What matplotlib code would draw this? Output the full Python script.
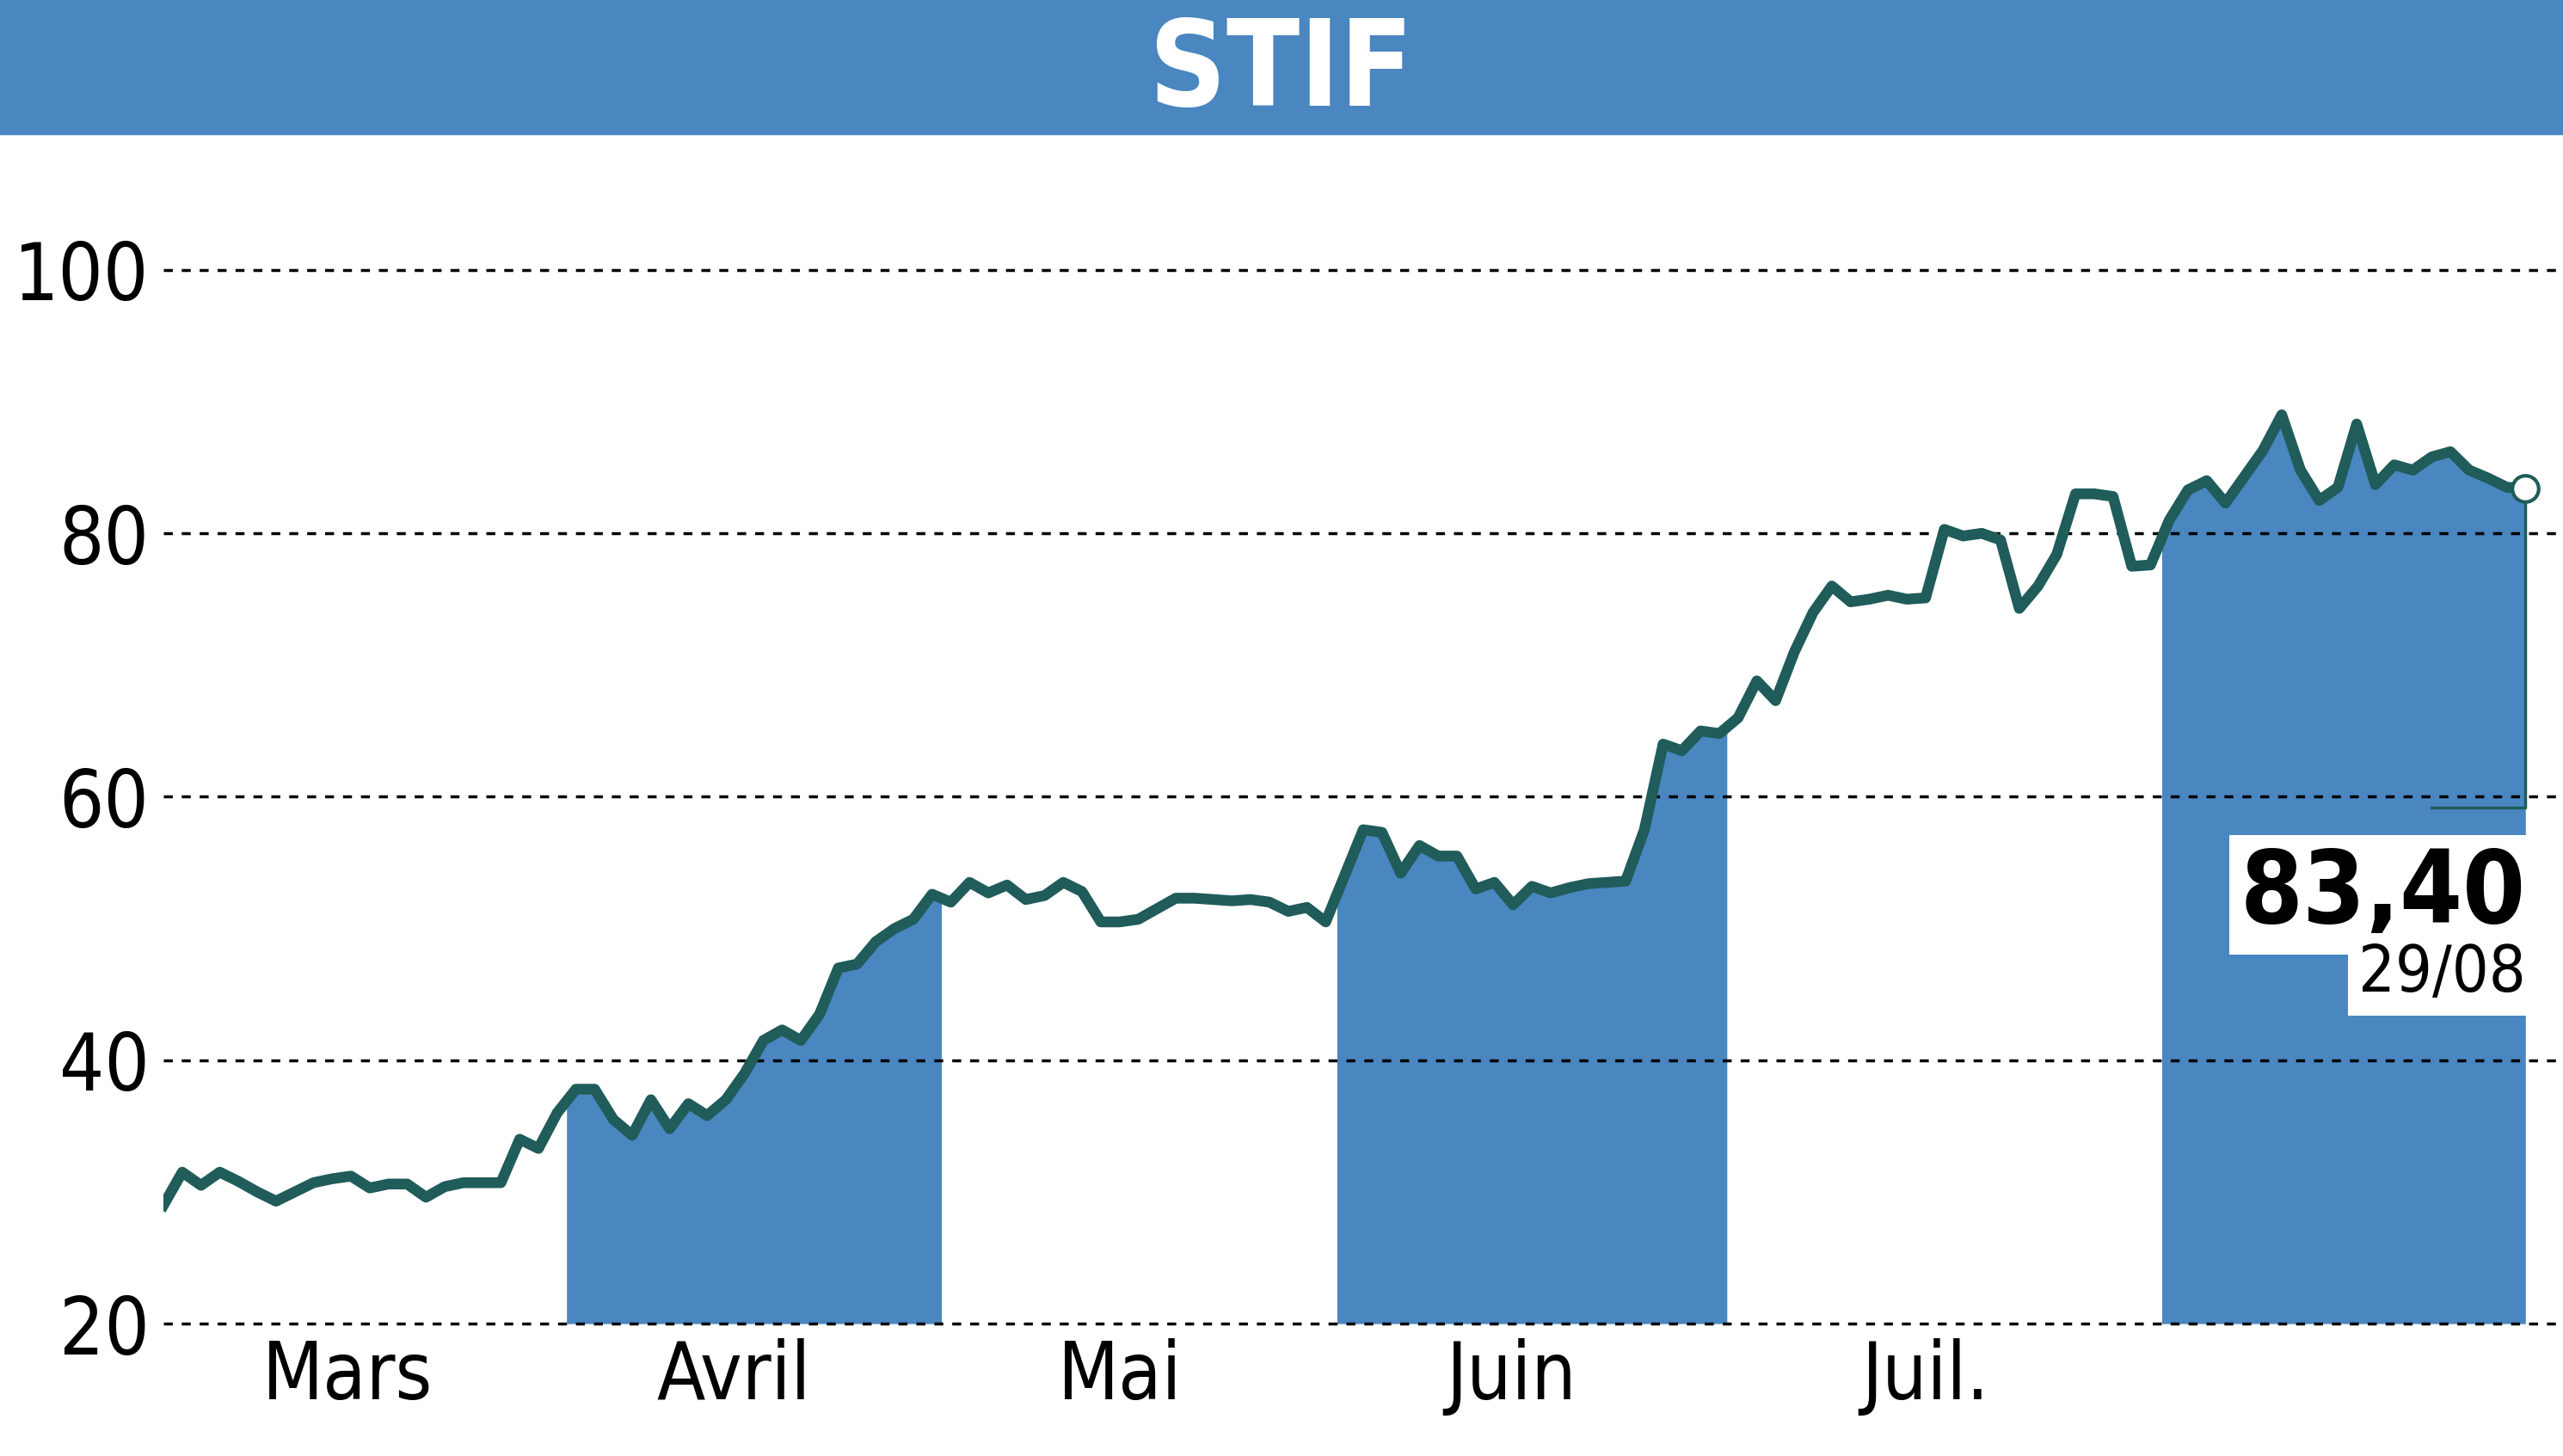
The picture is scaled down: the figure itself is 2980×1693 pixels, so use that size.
import matplotlib.pyplot as plt
from matplotlib.patches import Rectangle

title = "STIF"
months = ["Mars", "Avril", "Mai", "Juin", "Juil."]
month_pos = [9.8, 30.4, 51.0, 71.9, 94.0]
bands = [(21.5, 41.5), (62.6, 83.4), (106.6, 126.0)]
last_value = "83,40"
last_date = "29/08"
prices = [
    29, 31.5, 30.5, 31.5, 30.8, 30, 29.3, 30, 30.7, 31, 31.2, 30.3, 30.6, 30.6, 29.6, 30.4,
    30.7, 30.7, 30.7, 34, 33.3, 36, 37.8, 37.8, 35.5, 34.3, 37, 34.8, 36.7, 35.8, 37, 39,
    41.5, 42.3, 41.5, 43.5, 47, 47.3, 49, 50, 50.7, 52.6, 52, 53.5, 52.7, 53.3, 52.2, 52.5,
    53.5, 52.8, 50.5, 50.5, 50.7, 51.5, 52.3, 52.3, 52.2, 52.1, 52.2, 52, 51.3, 51.6, 50.5,
    54, 57.5, 57.3, 54.2, 56.3, 55.5, 55.5, 53, 53.5, 51.8, 53.2, 52.7, 53.1, 53.4, 53.5,
    53.6, 57.5, 64, 63.5, 65, 64.8, 66, 68.8, 67.3, 71, 74, 76, 74.8, 75, 75.3, 75, 75.1,
    80.3, 79.8, 80, 79.5, 74.3, 76, 78.4, 83, 83, 82.8, 77.5, 77.6, 81, 83.3, 84, 82.3,
    84.3, 86.3, 89, 84.8, 82.5, 83.5, 88.3, 83.7, 85.2, 84.8, 85.8, 86.2, 84.8, 84.2, 83.5, 83.4,
]

blue = "#4a86c0"
line_col = "#1f5c5a"
cond = dict(family="DejaVu Sans", fontstretch="condensed")
x = list(range(len(prices)))
n = len(prices) - 1


def interp(v):
    i = min(int(v), n - 1)
    return prices[i] + (prices[i + 1] - prices[i]) * (v - i)


fig = plt.figure(figsize=(29.8, 16.93), dpi=100)
fig.patches.append(Rectangle((0, 0.908), 1, 0.092, transform=fig.transFigure, color=blue, zorder=0))
fig.text(0.5, 0.95, title, ha="center", va="center", color="white", fontsize=100,
         fontweight="bold", **cond)

ax = fig.add_axes([0.0638, 0.0909, 0.9362, 0.797])
ax.set_xlim(0, n * 1468 / 1445)
ax.set_ylim(20, 108.1)

for a, b in bands:
    xs = [a] + [i for i in x if a < i < b] + [b]
    ax.fill_between(xs, 20, [interp(v) for v in xs], color=blue, lw=0, zorder=1)

for yv in [20, 40, 60, 80, 100]:
    ax.axhline(yv, color="black", ls=(0, (3, 3)), lw=2.5, zorder=2, clip_on=False)

ax.plot(x, prices, color=line_col, lw=9, zorder=3, solid_joinstyle="round")
ax.plot([n], [prices[-1]], "o", ms=22, mfc="white", mec=line_col, mew=3, zorder=5, clip_on=False)
ax.plot([n, n, n - 5], [prices[-1], 59.2, 59.2], color=line_col, lw=2.5, zorder=4)

ax.text(n, 56.3, last_value, ha="right", va="top", fontsize=84, fontweight="bold",
        bbox=dict(facecolor="white", edgecolor="none", pad=8), zorder=6, **cond)
ax.text(n, 48.9, last_date, ha="right", va="top", fontsize=54,
        bbox=dict(facecolor="white", edgecolor="none", pad=8), zorder=6, **cond)

ax.set_yticks([20, 40, 60, 80, 100])
ax.set_xticks(month_pos)
ax.set_xticklabels(months)
ax.tick_params(length=0, labelsize=66, pad=12)
for lab in ax.get_xticklabels() + ax.get_yticklabels():
    lab.set_fontstretch("condensed")
for s in ax.spines.values():
    s.set_visible(False)

fig.savefig("out.png", dpi=100)
